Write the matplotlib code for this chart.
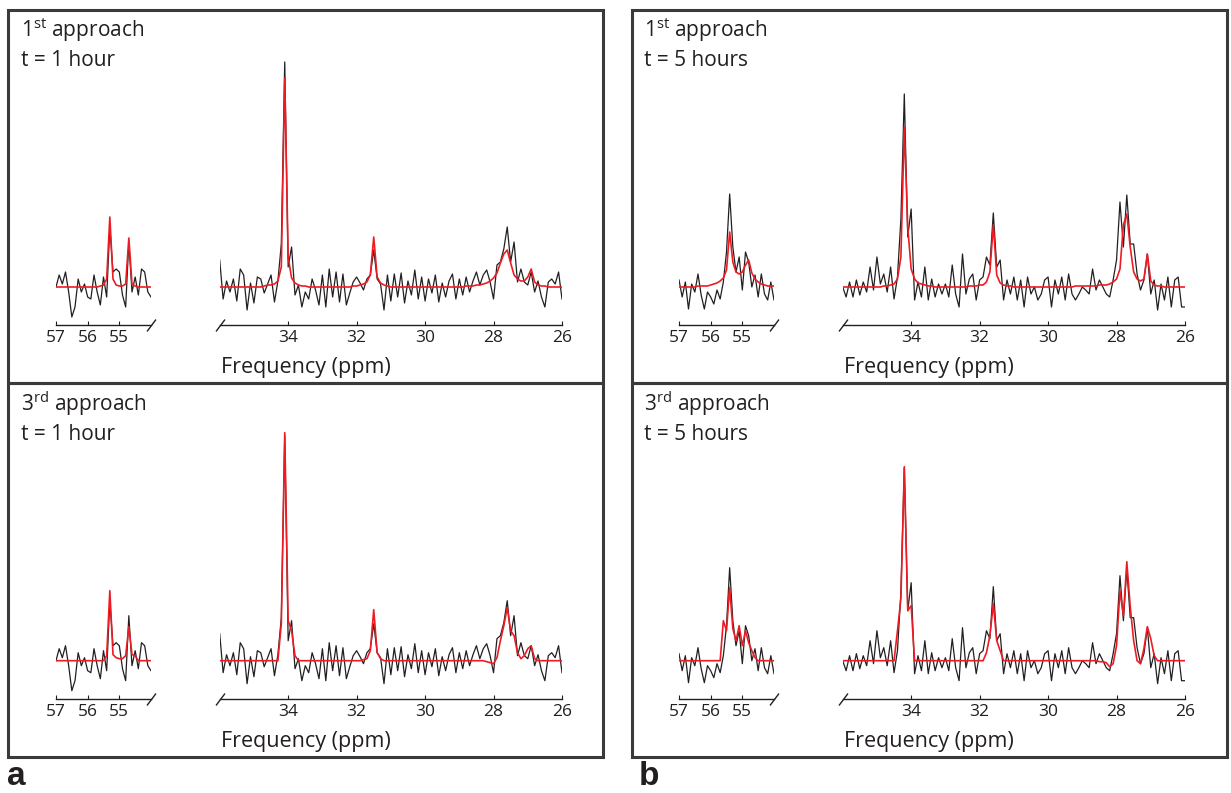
import numpy as np
import matplotlib
matplotlib.use("Agg")
import matplotlib.pyplot as plt
from matplotlib.patches import Rectangle

# ---------------- data (amplitudes in arbitrary units, baseline = 0) ----------------
ppm_left = np.linspace(57.0, 54.0, 31)     # sampling grid of the left segment
ppm_right = np.linspace(36.0, 26.0, 101)   # sampling grid of the right segment

left_ticks = [57, 56, 55]
right_ticks = [34, 32, 30, 28, 26]

# measured spectrum, t = 1 hour
spec_1h_left = [0, 12, 3, 15, -5, -30, -20, 8, -5, 3,
                -10, -12, 12, -5, -18, 10, -10, 60, 15, 18,
                15, -8, -20, 45, -5, 10, -8, 18, 15, -5,
                -10]
spec_1h_right = [27, -12, 6, -5, 8, -14, 18, 12, -23, 4,
                 -16, 10, 8, -6, 3, 12, -15, 6, 43, 225,
                 20, 40, -8, 2, -20, -5, -12, 8, -3, -18,
                 12, -20, 18, -10, 15, -15, 13, -18, -6, 5,
                 10, 4, -3, 8, 12, 37, 8, 3, -23, 12,
                 -14, 13, -10, 14, -16, 6, -8, 17, -12, 10,
                 -14, 8, -6, 12, -15, 4, -10, 6, 13, -12,
                 8, -8, 10, -5, 6, 15, 2, 12, 17, 5,
                 -12, 22, 25, 38, 60, 25, 45, 5, 18, 5,
                 2, 15, -5, 6, -10, -20, 5, 8, 3, 15,
                 -12]

# measured spectrum, t = 5 hours
spec_5h_left = [7, -10, 5, -22, 3, -5, 13, -8, -22, -5,
                -10, -17, -3, -12, 5, 35, 93, 40, 15, 30,
                -3, 35, 25, 0, 12, -10, 13, -7, -13, 5,
                -13]
spec_5h_right = [0, -10, 5, -10, 7, -8, 5, -5, 20, -3,
                 30, 3, 13, -5, 20, -12, 10, 68, 193, 50,
                 78, -13, 5, -10, 20, -13, 8, -10, 3, -7,
                 3, -10, 22, -7, -20, 33, -7, 8, 13, -13,
                 7, 10, 30, 22, 74, 20, 27, -13, 7, -7,
                 10, -13, 7, -20, 10, -7, 0, -13, -7, 7,
                 10, -20, 7, -7, 10, -13, 13, -7, -13, -7,
                 0, -3, -7, 18, -3, 7, 0, -7, -10, 7,
                 27, 85, 40, 92, 43, 43, 13, -3, 7, 33,
                 -7, 7, -23, 3, -13, 10, -20, 7, 10, -20,
                 -20]

# fitted curves
fit_1st_1h_left = [0, 0, 0, 0, 0, 0, 0, 0, 0, 0,
                   0, 0, 0, 0, 1, 2, 8, 70, 8, 2,
                   1, 1, 3, 49, 3, 1, 0, 0, 0, 0,
                   0]
fit_1st_1h_right = [0, 0, 0, 0, 0, 0, 0, 0, 0, 0,
                    0, 0, 0, 1, 2, 2, 3, 6, 20, 209,
                    30, 9, 4, 2, 1, 1, 0, 0, 0, 0,
                    0, 0, 0, 0, 0, 0, 0, 0, 0, 1,
                    1, 2, 3, 5, 12, 50, 10, 4, 2, 1,
                    0, 0, 0, 0, 0, 0, 0, 0, 0, 0,
                    0, 0, 0, 0, 0, 0, 0, 0, 0, 0,
                    0, 0, 1, 1, 1, 2, 2, 3, 4, 6,
                    9, 14, 24, 33, 37, 24, 12, 8, 6, 6,
                    10, 18, 5, 2, 1, 1, 0, 0, 0, 0,
                    0]
fit_3rd_1h_left = [0, 0, 0, 0, 0, 0, 0, 0, 0, 0,
                   0, 0, 0, 0, 0, 0, 5, 70, 6, 3,
                   2, 2, 5, 34, 6, 5, 0, 0, 0, 0,
                   0]
fit_3rd_1h_right = [0, 0, 0, 0, 0, 0, 0, 0, 0, 0,
                    0, 0, 0, 0, 0, 0, 0, 0, 37, 228,
                    40, 30, 5, 0, 0, 0, 0, 0, 0, 0,
                    0, 0, 0, 0, 0, 0, 0, 0, 0, 0,
                    0, 0, 1, 2, 10, 51, 8, 2, 0, 0,
                    0, 0, 0, 0, 0, 0, 0, 0, 0, 0,
                    0, 0, 0, 0, 0, 0, 0, 0, 0, 0,
                    0, 0, 0, 0, 0, 0, 0, 0, -1, -2,
                    -3, 3, 20, 35, 53, 30, 25, 8, 2, 5,
                    12, 15, 2, 0, 0, 0, 0, 0, 0, 0,
                    0]
fit_1st_5h_left = [0, 0, 0, 0, 0, 0, 1, 1, 1, 1,
                   2, 3, 4, 6, 9, 17, 55, 25, 15, 13,
                   15, 22, 27, 14, 8, 5, 3, 2, 1, 1,
                   1]
fit_1st_5h_right = [0, 0, 0, 0, 0, 0, 0, 0, 0, 0,
                    0, 0, 1, 1, 2, 3, 8, 30, 160, 60,
                    18, 8, 4, 3, 2, 1, 1, 0, 0, 0,
                    0, 0, 0, 0, 0, 0, 0, 1, 1, 1,
                    2, 2, 5, 15, 62, 12, 4, 2, 1, 1,
                    0, 0, 0, 0, 0, 0, 0, 0, 0, 0,
                    0, 0, 0, 0, 0, 0, 0, 0, 1, 1,
                    1, 1, 1, 1, 1, 2, 2, 2, 3, 5,
                    8, 18, 62, 73, 40, 15, 8, 6, 8, 33,
                    6, 2, 1, 1, 0, 0, 0, 0, 0, 0,
                    0]
fit_3rd_5h_left = [0, 0, 0, 0, 0, 0, 0, 0, 0, 0,
                   0, 0, 0, 0, 40, 30, 73, 32, 20, 35,
                   15, 30, 18, 10, 3, 0, 0, 0, 0, 0,
                   0]
fit_3rd_5h_right = [0, 0, 0, 0, 0, 0, 0, 0, 0, 0,
                    0, 0, 0, 0, 0, 0, 30, 62, 194, 50,
                    55, 0, 0, 0, 0, 0, 0, 0, 0, 0,
                    0, 0, 0, 0, 0, 0, 0, 0, 0, 0,
                    0, 0, 8, 25, 57, 20, 10, 0, 0, 0,
                    0, 0, 0, 0, 0, 0, 0, 0, 0, 0,
                    0, 0, 0, 0, 0, 0, 0, 0, 0, 0,
                    0, 0, 0, 0, 0, -1, -1, -2, -6, -3,
                    15, 70, 45, 99, 54, 20, 0, -3, 12, 34,
                    22, 5, 0, 0, 0, 0, 0, 0, 0, 0,
                    0]

approach_num = ["1", "3", "1", "3"]
approach_sup = ["st", "rd", "st", "rd"]
time_labels = ["t = 1 hour", "t = 1 hour", "t = 5 hours", "t = 5 hours"]
panel_letters = ["a", "b"]

# ---------------- styling ----------------
plt.rcParams["font.family"] = ["Open Sans", "DejaVu Sans"]
plt.rcParams["mathtext.fontset"] = "custom"
plt.rcParams["mathtext.rm"] = "Open Sans"
plt.rcParams["mathtext.it"] = "Open Sans:italic"
plt.rcParams["mathtext.bf"] = "Open Sans:bold"

INK = "#231f20"
RED = "#ed1c24"
BOX = "#3a3a3a"

W, H = 1231, 793
fig = plt.figure(figsize=(W / 100, H / 100), dpi=100)


def fx(x):
    return x / W


def fy(y):
    return 1 - y / H


def add_ax(x0, x1, ytop, ybot):
    return fig.add_axes([fx(x0), fy(ybot), (x1 - x0) / W, (ybot - ytop) / H])


def style_segment(ax, xlim, ticks, brk_side):
    ax.set_xlim(*xlim)
    ax.set_ylim(-38, 237)
    for s in ("top", "left", "right"):
        ax.spines[s].set_visible(False)
    ax.spines["bottom"].set_color(INK)
    ax.spines["bottom"].set_linewidth(1.0)
    ax.set_yticks([])
    ax.set_xticks(ticks)
    ax.set_xticklabels([str(t) for t in ticks])
    ax.tick_params(axis="x", direction="in", length=3, width=0.8, colors=INK,
                   labelsize=12.5, pad=3.5)
    ax.patch.set_alpha(0)
    xb = 1 if brk_side == "right" else 0
    ax.plot([xb], [0], transform=ax.transAxes, marker=[(-0.75, -1), (0.75, 1)],
            markersize=8.6, mec=INK, mew=1.0, ls="none", clip_on=False)


spectra = [(spec_1h_left, spec_1h_right), (spec_1h_left, spec_1h_right),
           (spec_5h_left, spec_5h_right), (spec_5h_left, spec_5h_right)]
fits = [(fit_1st_1h_left, fit_1st_1h_right), (fit_3rd_1h_left, fit_3rd_1h_right),
        (fit_1st_5h_left, fit_1st_5h_right), (fit_3rd_5h_left, fit_3rd_5h_right)]

col_dx = [0, 623]
row_dy = [0, 373.7]
box_x = [(8, 603), (631.5, 1227)]
box_y = [(10, 383), (383, 757)]

k = 0
for c in range(2):
    for r in range(2):
        dx, dy = col_dx[c], row_dy[r]
        bx0, bx1 = box_x[c]
        by0, by1 = box_y[r]
        fig.add_artist(Rectangle((fx(bx0), fy(by1)), (bx1 - bx0) / W, (by1 - by0) / H,
                                 transform=fig.transFigure, fill=False,
                                 ec=BOX, lw=2.2, zorder=10))

        axL = add_ax(56 + dx, 151 + dx, 50 + dy, 325 + dy)
        axR = add_ax(219.7 + dx, 562 + dx, 50 + dy, 325 + dy)
        sL, sR = spectra[k]
        fL, fR = fits[k]
        axL.plot(ppm_left, sL, color=INK, lw=0.9, zorder=2)
        axL.plot(ppm_left, fL, color=RED, lw=1.2, zorder=3)
        axR.plot(ppm_right, sR, color=INK, lw=0.9, zorder=2)
        axR.plot(ppm_right, fR, color=RED, lw=1.2, zorder=3)
        style_segment(axL, (57, 54), left_ticks, "right")
        style_segment(axR, (36, 26), right_ticks, "left")

        fig.text(fx(21 + dx), fy(37 + dy),
                 approach_num[k] + r"$^{\mathrm{" + approach_sup[k] + r"}}$ approach",
                 fontsize=15, color=INK, va="baseline", ha="left")
        fig.text(fx(21 + dx), fy(66 + dy), time_labels[k],
                 fontsize=15, color=INK, va="baseline", ha="left")
        fig.text(fx((bx0 + bx1) / 2), fy(373 + dy), "Frequency (ppm)",
                 fontsize=15.5, color=INK, va="baseline", ha="center")
        k += 1

fig.text(fx(7), fy(792), panel_letters[0], fontsize=24, fontweight="bold",
         family="Liberation Sans", color=INK, va="bottom", ha="left")
fig.text(fx(639), fy(792), panel_letters[1], fontsize=24, fontweight="bold",
         family="Liberation Sans", color=INK, va="bottom", ha="left")

fig.savefig("out.png", dpi=100)
